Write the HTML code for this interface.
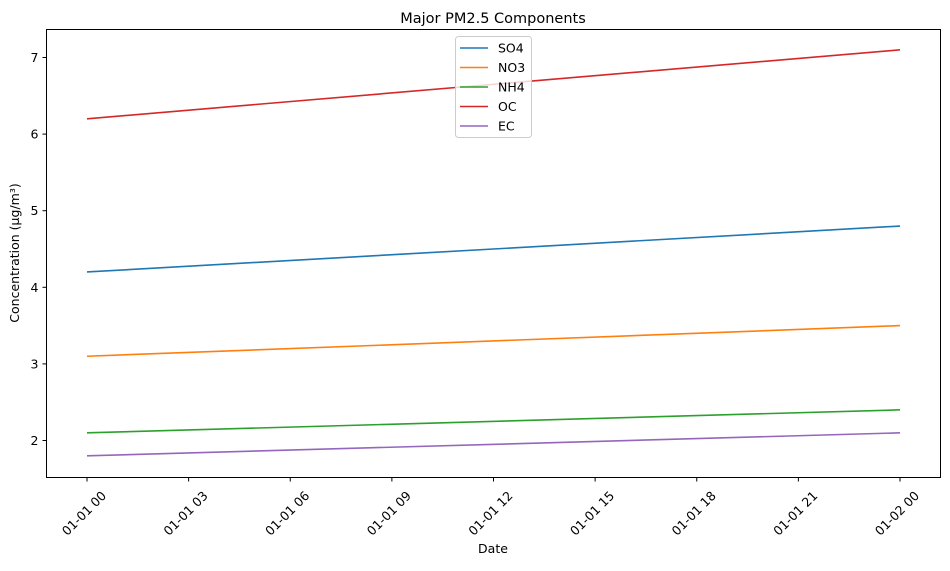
<!DOCTYPE html>
<html><head><meta charset="utf-8"><style>
body{margin:0;background:#fff}
svg text{font-family:"DejaVu Sans","Liberation Sans",sans-serif;fill:#000}
</style></head><body>
<svg id="c" width="950" height="566" xmlns="http://www.w3.org/2000/svg"></svg>
<script>
const xLabels=["01-01 00","01-01 03","01-01 06","01-01 09","01-01 12","01-01 15","01-01 18","01-01 21","01-02 00"];
const xHours=[0,24];
const yTicks=[2,3,4,5,6,7];
const seriesNames=["SO4","NO3","NH4","OC","EC"];
const so4=[4.2,4.8];
const no3=[3.1,3.5];
const nh4=[2.1,2.4];
const oc=[6.2,7.1];
const ec=[1.8,2.1];
const allSeries=[so4,no3,nh4,oc,ec];
const colors=["#1f77b4","#ff7f0e","#2ca02c","#d62728","#9467bd"];
const L=46.5,R=940.5,T=29.5,B=477.5;
const xs=h=>87+(900-87)*h/24;
const ys=v=>440.5-(v-2)*76.6;
const svg=document.getElementById('c');
const NS="http://www.w3.org/2000/svg";
function mk(t,a,p){const e=document.createElementNS(NS,t);for(const k in a)e.setAttribute(k,a[k]);(p||svg).appendChild(e);return e;}
let e;
e=mk('rect',{x:L,y:T,width:R-L,height:B-T,fill:'none',stroke:'#000','stroke-width':1});


allSeries.forEach((s,i)=>{
  const pts=s.map((v,j)=>xs(xHours[j])+','+ys(v)).join(' ');
  e=mk('polyline',{points:pts,fill:'none',stroke:colors[i],'stroke-width':1.6});
  
  
});
yTicks.forEach(v=>{
  const y=ys(v);
  e=mk('line',{x1:L-4,x2:L,y1:y,y2:y,stroke:'#000'});
  
  
  e=mk('text',{x:L-8,y:y+4.5,'text-anchor':'end','font-size':12.5});e.textContent=v;
  
  
});
xLabels.forEach((t,i)=>{
  const x=xs(i*3);
  e=mk('line',{x1:x,x2:x,y1:B,y2:B+4,stroke:'#000'});
  
  
  const ax=x+20,ay=B+19;
  e=mk('text',{x:ax,y:ay,'text-anchor':'end','font-size':12.5,transform:`rotate(-45 ${ax} ${ay})`});e.textContent=t;
  
  
});
e=mk('text',{x:493,y:23,'text-anchor':'middle','font-size':14.5});e.textContent='Major PM2.5 Components';


e=mk('text',{x:493,y:553,'text-anchor':'middle','font-size':12.5});e.textContent='Date';


e=mk('text',{x:19,y:253,'text-anchor':'middle','font-size':12.5,transform:'rotate(-90 19 253)'});e.textContent='Concentration (µg/m³)';


const lg=mk('g',{});


mk('rect',{x:455.5,y:36.5,width:76,height:101,rx:3,fill:'#fff','fill-opacity':0.8,stroke:'#ccc'},lg);
seriesNames.forEach((n,i)=>{
  const y=48+i*19.5;
  e=mk('line',{x1:460,x2:488,y1:y,y2:y,stroke:colors[i],'stroke-width':1.6},lg);
  
  
  e=mk('text',{x:498,y:y+4.5,'font-size':12.5},lg);e.textContent=n;
  
  
});
</script>
</body></html>
